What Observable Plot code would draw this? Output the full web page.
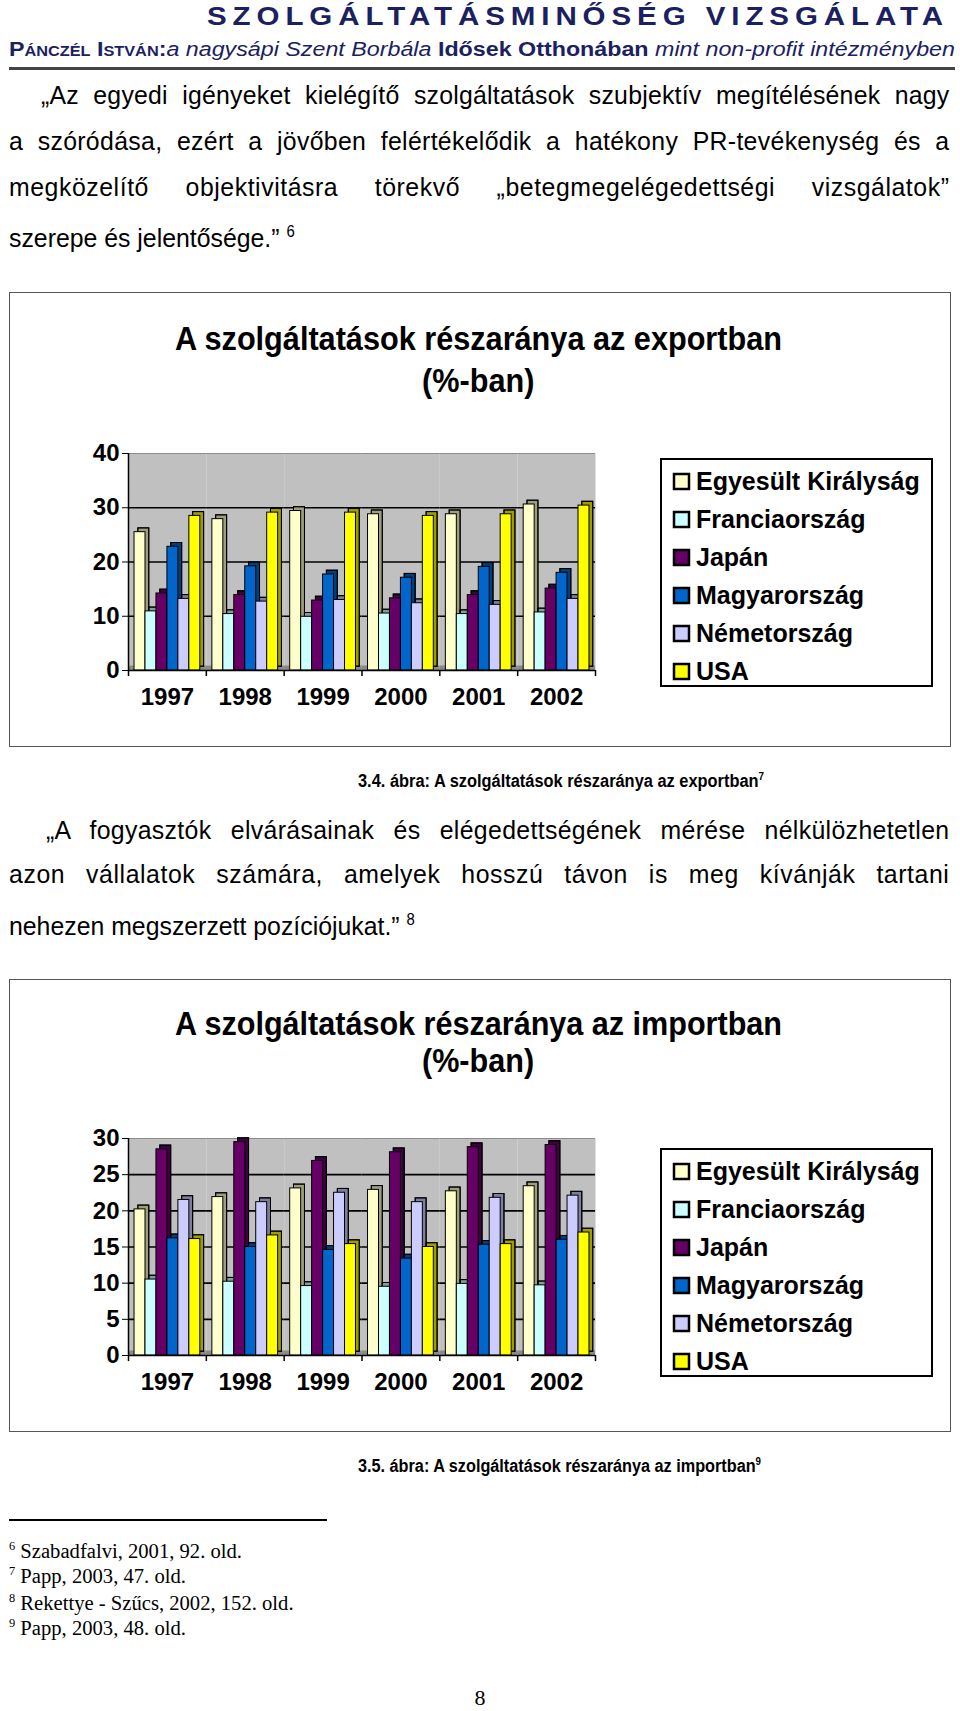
<!DOCTYPE html>
<html lang="hu">
<head>
<meta charset="utf-8">
<script src="https://cdn.jsdelivr.net/npm/d3@7"></script>
<script src="https://cdn.jsdelivr.net/npm/@observablehq/plot@0.6"></script>
<style>
  html, body { margin: 0; padding: 0; background: #fff; }
  #page { position: relative; width: 960px; height: 1711px; overflow: hidden; background: #fff; }
  .box { position: absolute; border: 1.5px solid #555; box-sizing: border-box; }
  .lgbox { position: absolute; border: 2px solid #000; box-sizing: border-box; background: #fff; padding: 2px 0 0 12px; }
  .lg-swatch { height: 38px !important; display: flex !important; align-items: center !important; font: bold 25px "Liberation Sans", Arial, sans-serif !important; color: #000; padding: 0 !important; }
  .lg-swatch svg { margin-right: 7px !important; overflow: visible; }
  .lg-swatch svg rect { stroke: #000; stroke-width: 2.5px; }
  .lg-label { overflow: visible !important; }
</style>
</head>
<body>
<div id="page"></div>
<script>
// ---------- data ----------
const years = ["1997", "1998", "1999", "2000", "2001", "2002"];
const countries = ["Egyesült Királyság", "Franciaország", "Japán", "Magyarország", "Németország", "USA"];
const colors = ["#ffffcc", "#ccffff", "#660066", "#0066cc", "#ccccff", "#ffff00"];

// export share of services (%)
const exportUK = [25.5, 27.9, 29.4, 28.8, 28.8, 30.6];
const exportFR = [10.9, 10.4, 9.9, 10.5, 10.4, 10.7];
const exportJP = [14.2, 13.9, 12.9, 13.3, 13.9, 15.1];
const exportHU = [22.8, 19.2, 17.7, 17.1, 19.1, 18.0];
const exportDE = [13.2, 12.7, 13.0, 12.4, 12.1, 13.2];
const exportUS = [28.5, 29.1, 29.1, 28.5, 28.8, 30.4];
const exportTicks = [0, 10, 20, 30, 40];

// import share of services (%)
const importUK = [20.2, 21.9, 23.1, 22.9, 22.7, 23.4];
const importFR = [10.5, 10.2, 9.6, 9.5, 9.9, 9.7];
const importJP = [28.5, 29.5, 26.9, 28.1, 28.8, 29.1];
const importHU = [16.2, 15.0, 14.6, 13.4, 15.3, 16.0];
const importDE = [21.5, 21.2, 22.5, 21.2, 21.8, 22.1];
const importUS = [16.1, 16.6, 15.4, 15.0, 15.4, 17.0];
const importTicks = [0, 5, 10, 15, 20, 25, 30];

// ---------- text helpers ----------
const page = document.getElementById("page");
const SANS = '"Liberation Sans", Arial, sans-serif';
const SERIF = '"Liberation Serif", "Times New Roman", serif';

function place(html, o) {
  const d = document.createElement("div");
  d.innerHTML = html;
  Object.assign(d.style, {
    position: "absolute",
    left: o.x + "px",
    top: (o.yc - o.size * 0.6) + "px",
    font: `${o.italic ? "italic" : "normal"} ${o.weight || 400} ${o.size}px/${o.size * 1.2}px ${o.family || SANS}`,
    color: o.color || "#000",
    whiteSpace: "nowrap",
    transformOrigin: "0 0",
    letterSpacing: o.ls ? o.ls + "px" : "normal"
  });
  page.appendChild(d);
  return d;
}
function natW(d) { return d.getBoundingClientRect().width; }
function fitTo(d, w) { const s = w / natW(d); d.style.transform = `scaleX(${s})`; return s; }
function scaleBy(d, s) { d.style.transform = `scaleX(${s})`; return natW(d); }
function centered(html, o, cx, s) {
  const d = place(html, Object.assign({}, o, { x: 0 }));
  const w = natW(d) * s;
  d.style.left = (cx - w / 2) + "px";
  d.style.transform = `scaleX(${s})`;
  return d;
}
// justified line: a small part of the extra room goes into letter spacing, the rest between words
function jline(html, o, s, frac = 0.25, cap = 0.6) {
  const d = place(html, o);
  const nat = natW(d);
  const n = d.textContent.length;
  const extra = o.w - nat * s;
  const ls = Math.max(0, Math.min(cap, frac * extra / n));
  d.style.letterSpacing = (ls / s) + "px";
  const nat2 = natW(d);
  const sc = Math.min(s, o.w / nat2);
  d.style.width = (o.w / sc + 0.5) + "px";
  d.style.whiteSpace = "normal";
  d.style.textAlign = "justify";
  d.style.textAlignLast = "justify";
  d.style.transform = `scaleX(${sc})`;
  return d;
}
function hrule(x, y, w, t, c) {
  const d = document.createElement("div");
  Object.assign(d.style, { position: "absolute", left: x + "px", top: (y - t / 2) + "px", width: w + "px", height: t + "px", background: c });
  page.appendChild(d);
}
function box(x, y, w, h, cls) {
  const d = document.createElement("div");
  d.className = cls || "box";
  Object.assign(d.style, { left: x + "px", top: y + "px", width: w + "px", height: h + "px" });
  page.appendChild(d);
  return d;
}

// ---------- header ----------
const NAVY = "#1b2160";
const h1 = place("SZOLGÁLTATÁSMINŐSÉG VIZSGÁLATA", { x: 207, yc: 16, size: 25, weight: 700, color: NAVY, ls: 5 });
fitTo(h1, 742);
const h2 = place('<span style="font-variant:small-caps;font-weight:700">Pánczél István:</span><i>a nagysápi Szent Borbála</i> <b>Idősek Otthonában</b> <i>mint non-profit intézményben</i>',
  { x: 9, yc: 49, size: 20, color: NAVY });
fitTo(h2, 946);
hrule(9, 68, 946, 3, "#444");

// ---------- paragraph 1 ----------
const PS = 26;
const BS = 0.955;
const p1last = place("szerepe és jelentősége.” <sup style=\"font-size:0.6em\">6</sup>", { x: 9, yc: 232, size: PS });
scaleBy(p1last, BS);
jline("„Az egyedi igényeket kielégítő szolgáltatások szubjektív megítélésének nagy", { x: 41, yc: 96, size: PS, w: 908 }, BS);
jline("a szóródása, ezért a jövőben felértékelődik a hatékony PR-tevékenység és a", { x: 9, yc: 142, size: PS, w: 940 }, BS);
jline("megközelítő objektivitásra törekvő „betegmegelégedettségi vizsgálatok”", { x: 9, yc: 188, size: PS, w: 940 }, BS);

// ---------- chart builder ----------
function buildChart(series, yMax, yTicks) {
  const data = years.flatMap((yr, i) => countries.map((c, j) => ({ year: yr, country: c, value: series[j][i] })));
  const W = 560, ML = 68, MR = 25;
  const fw = (W - ML - MR) / years.length;
  const po = 0.55;
  const bw = fw / (countries.length + 2 * po);
  const edge = (po + 0.5) * bw;
  const depth = 3.8;
  return Plot.plot({
    width: W, height: 285, marginLeft: ML, marginRight: MR, marginTop: 23, marginBottom: 45,
    style: { fontFamily: SANS, fontSize: "24px", fontWeight: "bold", color: "#000", background: "transparent", overflow: "visible" },
    fx: { domain: years, padding: 0, round: false, label: null, tickSize: 0, tickPadding: 17, axis: "bottom" },
    x: { domain: countries, paddingInner: 0, paddingOuter: po, round: false, axis: null },
    y: { domain: [0, yMax], ticks: yTicks, tickSize: 6, tickPadding: 3, label: null, tickFormat: d => String(d) },
    color: { domain: countries, range: colors },
    marks: [
      Plot.frame({ fill: "#c0c0c0", stroke: null }),
      Plot.ruleY(yTicks.filter(t => t > 0 && t < yMax), { stroke: "#000", strokeWidth: 1.6 }),
      Plot.ruleY([yMax], { stroke: "#8c8c8c", strokeWidth: 1.2 }),
      Plot.ruleY([0], { stroke: "#8a8a8a", strokeWidth: 5, dy: -2.5 }),
      Plot.barY(data, { fx: "year", x: "country", y: "value", fill: "country", dx: depth, dy: -depth, stroke: "#000", strokeWidth: 1 }),
      Plot.barY(data, { fx: "year", x: "country", y: "value", fill: "#000", fillOpacity: 0.38, dx: depth, dy: -depth, stroke: "#000", strokeWidth: 1 }),
      Plot.barY(data, { fx: "year", x: "country", y: "value", fill: "country", stroke: "#000", strokeWidth: 1 }),
      Plot.ruleY([0], { stroke: "#000", strokeWidth: 1.5 }),
      Plot.ruleX(years, { fx: d => d, x: () => countries[0], dx: -edge, y1: 0, y2: -yMax * 0.028, stroke: "#000", strokeWidth: 1.5 }),
      Plot.ruleX([years[years.length - 1]], { fx: d => d, x: () => countries[countries.length - 1], dx: edge, y1: 0, y2: -yMax * 0.028, stroke: "#000", strokeWidth: 1.5 }),
      Plot.ruleX([years[0]], { fx: d => d, x: () => countries[0], dx: -edge, y1: 0, y2: yMax, stroke: "#000", strokeWidth: 1.5 })
    ]
  });
}
function legend(x, y, w, h) {
  const b = box(x, y, w, h, "lgbox");
  const lg = Plot.legend({ color: { domain: countries, range: colors }, legend: "swatches", columns: 1, swatchSize: 15, className: "lg",
    style: { fontFamily: SANS, fontSize: "25px", fontWeight: "bold", color: "#000", width: (w - 16) + "px" } });
  b.appendChild(lg);
}
function putSvg(svg, x, y) {
  const wrap = document.createElement("div");
  Object.assign(wrap.style, { position: "absolute", left: x + "px", top: y + "px" });
  wrap.appendChild(svg);
  page.appendChild(wrap);
}

// ---------- chart 1 ----------
box(9, 292, 942, 455);
const t1 = place("A szolgáltatások részaránya az exportban", { x: 175, yc: 338, size: 34, weight: 700 });
const ts = fitTo(t1, 607);
centered("(%-ban)", { yc: 380, size: 34, weight: 700 }, 478, ts);
putSvg(buildChart([exportUK, exportFR, exportJP, exportHU, exportDE, exportUS], 40, exportTicks), 60, 430);
legend(660, 458, 273, 229);

const c1 = place('3.4. ábra: A szolgáltatások részaránya az exportban<sup style="font-size:0.6em">7</sup>', { x: 358, yc: 777, size: 18, weight: 700 });
fitTo(c1, 406);

// ---------- paragraph 2 ----------
const p2last = place("nehezen megszerzett pozíciójukat.” <sup style=\"font-size:0.6em\">8</sup>", { x: 9, yc: 920, size: PS });
scaleBy(p2last, BS);
jline("„A fogyasztók elvárásainak és elégedettségének mérése nélkülözhetetlen", { x: 46, yc: 831, size: PS, w: 903 }, BS);
jline("azon vállalatok számára, amelyek hosszú távon is meg kívánják tartani", { x: 9, yc: 875, size: PS, w: 940 }, BS);

// ---------- chart 2 ----------
box(9, 979, 942, 453);
const t2 = place("A szolgáltatások részaránya az importban", { x: 175, yc: 1023, size: 34, weight: 700 });
const ts2 = fitTo(t2, 607);
centered("(%-ban)", { yc: 1060, size: 34, weight: 700 }, 478, ts2);
putSvg(buildChart([importUK, importFR, importJP, importHU, importDE, importUS], 30, importTicks), 60, 1115);
legend(660, 1148, 273, 229);

const c2 = place('3.5. ábra: A szolgáltatások részaránya az importban<sup style="font-size:0.6em">9</sup>', { x: 358, yc: 1462, size: 18, weight: 700 });
fitTo(c2, 403);

// ---------- footnotes ----------
hrule(9, 1520, 318, 1.5, "#000");
const FS = 20;
const f1 = place('<sup style="font-size:0.6em">6</sup> Szabadfalvi, 2001, 92. old.', { x: 9, yc: 1546, size: FS, family: SERIF });
const fs = fitTo(f1, 233);
scaleBy(place('<sup style="font-size:0.6em">7</sup> Papp, 2003, 47. old.', { x: 9, yc: 1571, size: FS, family: SERIF }), fs);
scaleBy(place('<sup style="font-size:0.6em">8</sup> Rekettye - Szűcs, 2002, 152. old.', { x: 9, yc: 1598, size: FS, family: SERIF }), fs);
scaleBy(place('<sup style="font-size:0.6em">9</sup> Papp, 2003, 48. old.', { x: 9, yc: 1623, size: FS, family: SERIF }), fs);
centered("8", { yc: 1698, size: 22, family: SERIF }, 480, 1);
</script>
</body>
</html>
